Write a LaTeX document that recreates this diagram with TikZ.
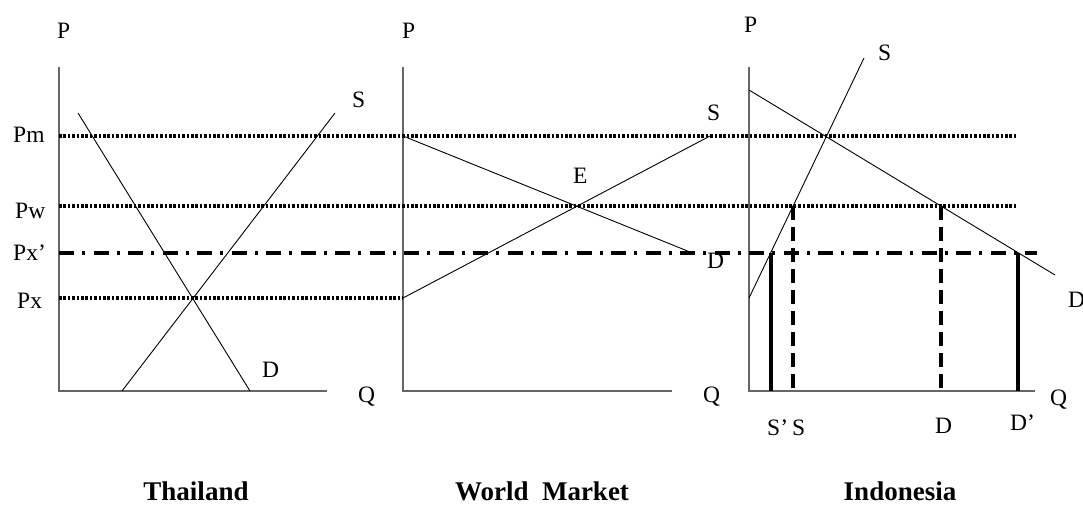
\documentclass[tikz,border=0pt]{standalone}
\usepackage{fontspec}
\setmainfont{Liberation Serif}
\begin{document}
\begin{tikzpicture}[x=1pt,y=-1pt,
  lbl/.style={anchor=base west,inner sep=0pt,font=\fontsize{23.5}{23.5}\selectfont},
  ttl/.style={anchor=base,inner sep=0pt,font=\fontsize{27}{27}\selectfont\bfseries},
  axisline/.style={draw=black!60,line width=1.2pt},
  curve/.style={draw=black,line width=0.9pt},
  dotline/.style={draw=black,line width=3.4pt,dash pattern=on 2.6pt off 1.8pt},
  dashdotline/.style={draw=black,line width=4pt,dash pattern=on 15pt off 8pt on 3pt off 8.5pt},
  dashline/.style={draw=black,line width=3.4pt,dash pattern=on 14pt off 7pt},
  solidthick/.style={draw=black,line width=3.2pt}]
\useasboundingbox (0,0) rectangle (1083,504);
% ---------- coordinates ----------
% Thailand
\coordinate (T0) at (59,391); \coordinate (Ttop) at (59,67); \coordinate (Tright) at (327,391);
\coordinate (TD1) at (78,113); \coordinate (TD2) at (250,391);
\coordinate (TS1) at (122,391); \coordinate (TS2) at (335,113);
% World
\coordinate (W0) at (403,391); \coordinate (Wtop) at (403,67); \coordinate (Wright) at (672,391);
\coordinate (WD1) at (403,136); \coordinate (WD2) at (690,252);
\coordinate (WS1) at (403,298); \coordinate (WS2) at (710,136);
% Indonesia
\coordinate (I0) at (749,391); \coordinate (Itop) at (749,67); \coordinate (Iright) at (1035,391);
\coordinate (IS1) at (749,298); \coordinate (IS2) at (864,58);
\coordinate (ID1) at (749,90); \coordinate (ID2) at (1055,275);
% price lines
\coordinate (Pm1) at (59,136); \coordinate (Pm2) at (1017,136);
\coordinate (Pw1) at (59,206); \coordinate (Pw2) at (1017,206);
\coordinate (Pxp1) at (59,253); \coordinate (Pxp2) at (1037,253);
\coordinate (Px1) at (59,298); \coordinate (Px2) at (403,298);
% quantity drops
\coordinate (Sp1) at (771,253); \coordinate (Sp2) at (771,391);
\coordinate (Sq1) at (793,206); \coordinate (Sq2) at (793,391);
\coordinate (Dq1) at (941,206); \coordinate (Dq2) at (941,391);
\coordinate (Dp1) at (1018,253); \coordinate (Dp2) at (1018,391);
% ---------- axes ----------
\draw[axisline] (Ttop) -- (T0) -- (Tright);
\draw[axisline] (Wtop) -- (W0) -- (Wright);
\draw[axisline] (Itop) -- (I0) -- (Iright);
% ---------- price lines ----------
\draw[dotline] (Pm1) -- (Pm2);
\draw[dotline] (Pw1) -- (Pw2);
\draw[dotline] (Px1) -- (Px2);
\draw[dashdotline] (Pxp1) -- (Pxp2);
% ---------- curves ----------
\draw[curve] (TD1) -- (TD2);
\draw[curve] (TS1) -- (TS2);
\draw[curve] (WD1) -- (WD2);
\draw[curve] (WS1) -- (WS2);
\draw[curve] (IS1) -- (IS2);
\draw[curve] (ID1) -- (ID2);
% ---------- verticals ----------
\draw[solidthick] (Sp1) -- (Sp2);
\draw[dashline] (Sq1) -- (Sq2);
\draw[dashline] (Dq1) -- (Dq2);
\draw[solidthick] (Dp1) -- (Dp2);
% ---------- labels ----------
\node[lbl] (lP1) at (57,38) {P};
\node[lbl] (lPm) at (13,142) {Pm};
\node[lbl] (lPw) at (15,218) {Pw};
\node[lbl] (lPxp) at (13,260) {Px’};
\node[lbl] (lPx) at (17,308) {Px};
\node[lbl] (lS1) at (352,107) {S};
\node[lbl] (lD1) at (262,377) {D};
\node[lbl] (lQ1) at (358,402) {Q};
\node[lbl] (lP2) at (402,38) {P};
\node[lbl] (lE) at (573,183) {E};
\node[lbl] (lS2) at (707,120) {S};
\node[lbl] (lD2) at (707,268) {D};
\node[lbl] (lQ2) at (703,402) {Q};
\node[lbl] (lP3) at (744,32) {P};
\node[lbl] (lS3) at (878,60) {S};
\node[lbl] (lD3) at (1068,307) {D};
\node[lbl] (lQ3) at (1050,405) {Q};
\node[lbl] (lSp) at (767,435) {S’};
\node[lbl] (lSq) at (792,435) {S};
\node[lbl] (lDq) at (935,433) {D};
\node[lbl] (lDp) at (1010,430) {D’};
% ---------- titles ----------
\node[ttl] (tT) at (196,500) {Thailand};
\node[ttl] (tW) at (542,500) {World\ \ Market};
\node[ttl] (tI) at (900,500) {Indonesia};
\end{tikzpicture}
\end{document}
